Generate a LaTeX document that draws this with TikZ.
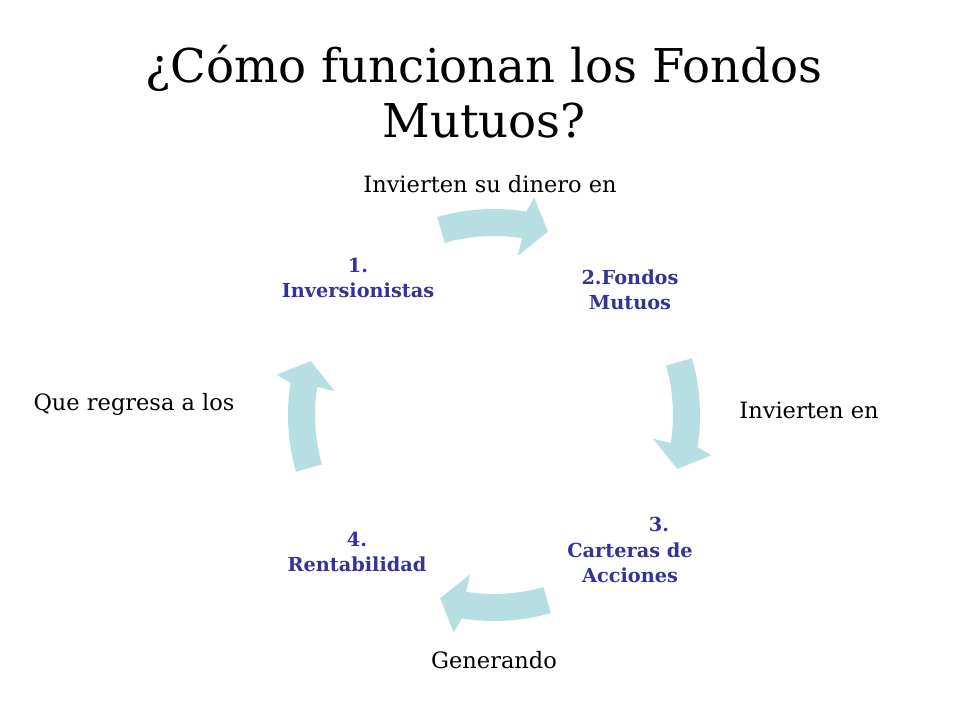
\documentclass[tikz,border=0pt]{standalone}
\usepackage{fontspec}
\setmainfont{DejaVu Serif}
\definecolor{arrowfill}{RGB}{183,222,226}
\definecolor{nodeblue}{RGB}{51,51,153}
\tikzset{
  cyclearrow/.style={fill=arrowfill, draw=none},
  stepnode/.style={text=nodeblue, font=\fontsize{19.3}{25.5}\selectfont\bfseries, align=center, inner sep=0pt},
  edgelabel/.style={text=black, font=\fontsize{22.5}{26}\selectfont, inner sep=0pt},
  titletext/.style={font=\fontsize{46.6}{55}\selectfont, align=center, inner sep=0pt}
}
\newcommand{\cyclearc}[1]{%
  \begin{scope}[shift={(494,415)}, yscale=-1, rotate=#1]
    \fill[cyclearrow] (106:206) arc[start angle=106, end angle=81, radius=206]
      -- (79.5:221) -- (73.6:191) -- (81.5:161) -- (81:179)
      arc[start angle=81, end angle=106, radius=179] -- cycle;
  \end{scope}}
\begin{document}
\begin{tikzpicture}[x=1pt, y=-1pt]
\useasboundingbox[fill=white] (0,0) rectangle (960,720);
\node[titletext] (title) at (484,92) {¿Cómo funcionan los Fondos\\Mutuos?};
\cyclearc{0}
\cyclearc{-90}
\cyclearc{-180}
\cyclearc{-270}
\node[stepnode] (n1) at (358,278) {1.\\Inversionistas};
\node[stepnode] (n2) at (630,290) {2.Fondos\\Mutuos};
\node[stepnode] (n3) at (630,550) {\hspace*{3em}3.\\Carteras de\\Acciones};
\node[stepnode] (n4) at (357,552) {4.\\Rentabilidad};
\node[edgelabel] (l1) at (490,184) {Invierten su dinero en};
\node[edgelabel] (l2) at (809,410) {Invierten en};
\node[edgelabel] (l3) at (494,660) {Generando};
\node[edgelabel] (l4) at (134,404) {Que regresa a los};
\end{tikzpicture}
\end{document}
